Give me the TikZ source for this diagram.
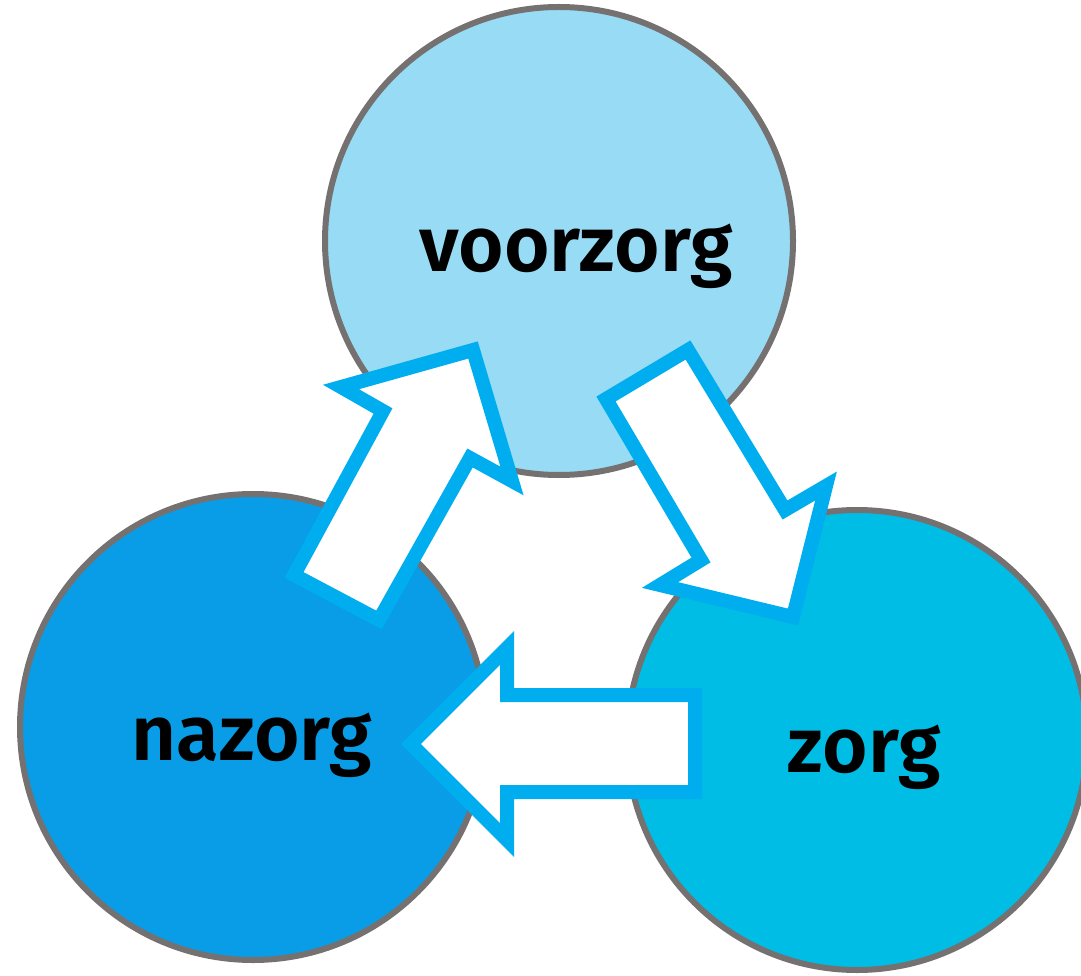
\documentclass[tikz,border=0pt]{standalone}
\usepackage{fontspec}
\setmainfont{Fira Sans}
\newfontfamily\lblfont{Fira Sans SemiBold}
\definecolor{ringgray}{HTML}{767171}
\definecolor{voorfill}{HTML}{97DBF5}
\definecolor{nafill}{HTML}{089DE6}
\definecolor{zorgfill}{HTML}{00BDE5}
\definecolor{arrowblue}{HTML}{00ADEE}
\begin{document}
\begin{tikzpicture}[x=1pt,y=-1pt,
  ring/.style={circle, draw=ringgray, line width=6pt, inner sep=0pt},
  blockarrow/.style={draw=arrowblue, fill=white, line width=14pt, line join=miter, miter limit=10},
  lbl/.style={anchor=base, font=\lblfont\fontsize{78}{88}\selectfont, text=black}]
\useasboundingbox (0,0) rectangle (1081,976);
% circles
\node[ring, fill=voorfill, minimum size=468pt] (voor) at (559,241) {};
\node[ring, fill=nafill, minimum size=466pt] (na) at (253,727) {};
\node[ring, fill=zorgfill, minimum size=460pt] (zorg) at (857,740) {};
% labels
\node[lbl] (tvoor) at (576,272) {voorzorg};
\node[lbl] (tna) at (252,760) {nazorg};
\node[lbl] (tzorg) at (864,772) {zorg};
% arrow nazorg -> voorzorg
\draw[blockarrow] (294,575) -- (383,411) -- (341,387) -- (473,350) -- (512,481) -- (470,458) -- (379,620) -- cycle;
% arrow voorzorg -> zorg
\draw[blockarrow] (606,399) -- (701,560) -- (660,585) -- (793,617) -- (826,486) -- (785,510) -- (688,350) -- cycle;
% arrow zorg -> nazorg
\draw[blockarrow] (695,695) -- (507,695) -- (507,648) -- (411,744) -- (507,840) -- (507,792) -- (695,792) -- cycle;
\end{tikzpicture}
\end{document}
